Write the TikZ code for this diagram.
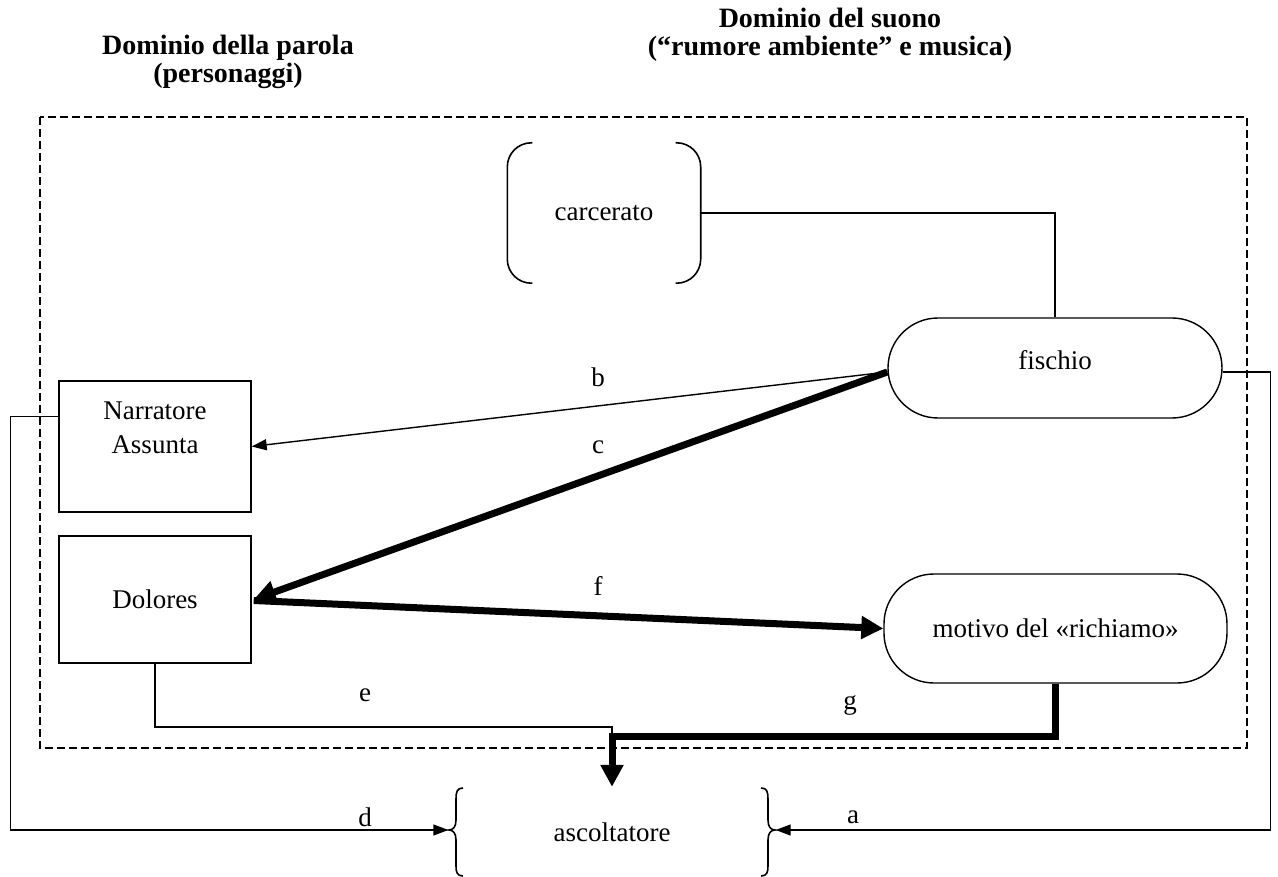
\documentclass[tikz,border=0pt]{standalone}
\usepackage{fontspec}
\setmainfont{Liberation Serif}
\usetikzlibrary{arrows.meta,calc}
\begin{document}
\begin{tikzpicture}[x=1pt,y=-1pt,
  every node/.style={font=\fontsize{27}{31}\selectfont},
  title/.style={font=\fontsize{28}{28}\selectfont\bfseries, align=center},
  boxnode/.style={draw, line width=1.4pt, minimum width=192pt, minimum height=130pt, inner sep=0pt},
  pill/.style={draw, line width=1.4pt, rounded corners=50pt, inner sep=0pt},
  thinline/.style={line width=1.4pt},
  thinarrow/.style={line width=1.4pt, -{Triangle[length=15pt,width=11pt]}},
  thickarrow/.style={line width=7pt, line join=miter, -{Triangle[length=22pt,width=22pt]}},
  lbl/.style={inner sep=0pt},
  frame/.style={line width=1.2pt, dash pattern=on 8pt off 4pt},
  bracket/.style={line width=1.6pt}
]
\useasboundingbox (0,0) rectangle (1278,877);

% titles
\node[title] (t1) at (228,62) {Dominio della parola\\(personaggi)};
\node[title] (t2) at (830,35) {Dominio del suono\\(“rumore ambiente” e musica)};

% dashed frame
\draw[frame] (40,117) rectangle (1247,748);

% nodes
\node[minimum width=193pt, minimum height=140pt, inner sep=0pt] (carc) at (604,213) {carcerato};
\draw[bracket, rounded corners=24pt] ($(carc.north west)+(25,0)$) -- (carc.north west) -- (carc.south west) -- ($(carc.south west)+(25,0)$);
\draw[bracket, rounded corners=24pt] ($(carc.north east)+(-25,0)$) -- (carc.north east) -- (carc.south east) -- ($(carc.south east)+(-25,0)$);

\node[pill, minimum width=334pt, minimum height=100pt] (fis) at (1055,368) {};
\node[lbl] (fistext) at (1055,360) {fischio};

\node[pill, minimum width=343pt, minimum height=109pt] (mot) at (1055.5,628.5) {motivo del «richiamo»};

\node[boxnode, minimum height=131pt] (narr) at (155,446.5) {};
\node[lbl, align=center, font=\fontsize{27}{34}\selectfont] (narrtext) at (155,428) {Narratore\\Assunta};

\node[boxnode, minimum height=127pt] (dol) at (155,599.5) {Dolores};

\node[minimum width=325pt, minimum height=90pt, inner sep=0pt] (asc) at (612,832) {ascoltatore};
\draw[bracket] (463,788) .. controls (457,788) and (456,792) .. (456,799) -- (456,820)
  .. controls (456,827) and (453,830) .. (449,830)
  .. controls (453,830) and (456,833) .. (456,840) -- (456,866)
  .. controls (456,872) and (457,876) .. (463,876);
\draw[bracket] (761,788) .. controls (767,788) and (768,792) .. (768,799) -- (768,820)
  .. controls (768,827) and (771,830) .. (775,830)
  .. controls (771,830) and (768,833) .. (768,840) -- (768,866)
  .. controls (768,872) and (767,876) .. (761,876);

% connectors
\coordinate (carcR) at (700,213);
\draw[thinline] (carcR) -| (fis.north);

\draw[thinarrow] ($(fis.west)+(0,4)$) -- (narr.east);
\draw[thickarrow] ($(fis.west)+(0,4)$) -- ($(dol.east)+(2,0)$);
\draw[thickarrow] ($(dol.east)+(2,1)$) -- (mot.west);

\draw[thinarrow] ($(narr.west)+(0,-30)$) -- ++(-48,0) |- ($(asc.west)+(-1,-2)$);
\draw[thinarrow] ($(fis.east)+(0,4)$) -- ++(48,0) |- ($(asc.east)+(1,-2)$);

\coordinate (j) at (612,736);
\draw[thinline] (dol.south) |- ($(j)+(0,-9)$) -- (j);
\draw[thickarrow] (mot.south) |- (j) -- (asc.north);

% labels
\node[lbl] (lb) at (598,377) {b};
\node[lbl] (lc) at (598,447) {c};
\node[lbl] (lf) at (598,586) {f};
\node[lbl] (le) at (365,695) {e};
\node[lbl] (lg) at (850,705) {g};
\node[lbl] (ld) at (365,817) {d};
\node[lbl] (la) at (853,817) {a};
\end{tikzpicture}
\end{document}
